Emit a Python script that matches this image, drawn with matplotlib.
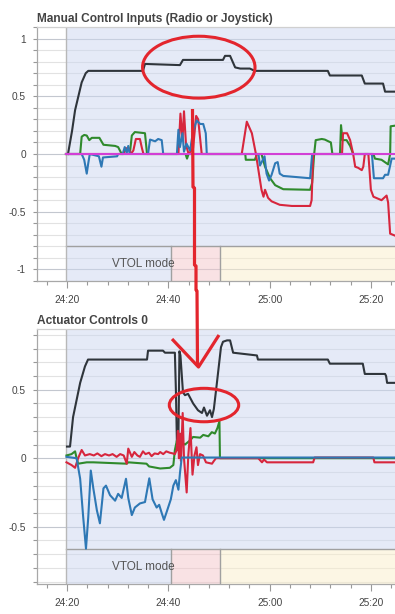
import matplotlib
matplotlib.use('Agg')
import matplotlib.pyplot as plt
from matplotlib.patches import Ellipse
from matplotlib.lines import Line2D
from matplotlib.ticker import MultipleLocator, FuncFormatter, FixedLocator
import matplotlib.transforms as mtransforms

plt.rcParams['font.family'] = ['Liberation Sans', 'DejaVu Sans']
plt.rcParams['axes.unicode_minus'] = False

# ---------------- data (time in seconds, 24:20 = 1460 s) ----------------
# Manual Control Inputs
mc_thr_t = [1460.2, 1461.0, 1461.6, 1462.9, 1463.7, 1464.2, 1475.0, 1475.4, 1482.3, 1482.9,
            1490.8, 1491.2, 1492.2, 1493.2, 1494.2, 1496.1, 1497.1, 1511.5, 1511.9, 1518.2,
            1518.8, 1522.4, 1522.8, 1525.5]
mc_thr_v = [0.0, 0.20, 0.38, 0.62, 0.70, 0.72, 0.72, 0.78, 0.77, 0.815,
            0.815, 0.85, 0.85, 0.75, 0.74, 0.74, 0.72, 0.72, 0.68, 0.68,
            0.61, 0.61, 0.54, 0.54]

mc_green_t = [1459.8, 1462.6, 1462.9, 1463.4, 1463.9, 1464.4, 1464.9, 1466.4, 1467.2, 1469.5,
              1470.1, 1470.8, 1472.4, 1472.8, 1473.4, 1475.4, 1475.8, 1483.4, 1483.7, 1484.0,
              1495.2, 1495.3, 1497.1, 1497.5, 1498.4, 1499.1, 1500.1, 1501.1, 1502.7, 1508.0,
              1508.4, 1508.8, 1509.1, 1510.3, 1510.9, 1511.6, 1512.1, 1512.4, 1513.9, 1514.1,
              1514.4, 1515.2, 1515.9, 1516.5, 1520.5, 1520.8, 1522.1, 1523.4, 1523.8, 1523.9,
              1525.5]
mc_green_v = [0.0, 0.0, 0.15, 0.165, 0.16, 0.12, 0.14, 0.14, 0.08, 0.07,
              0.06, 0.0, 0.0, 0.16, 0.19, 0.18, 0.0, 0.0, -0.04, 0.0,
              0.0, -0.05, -0.05, 0.0, 0.0, -0.11, -0.21, -0.27, -0.305, -0.31,
              -0.25, 0.0, 0.12, 0.13, 0.125, 0.11, 0.10, 0.0, 0.0, 0.25,
              0.12, 0.12, 0.07, 0.0, 0.0, -0.04, -0.05, -0.09, 0.0, 0.24,
              0.25]

mc_red_t = [1459.8, 1471.2, 1471.6, 1472.2, 1472.6, 1473.1, 1473.6, 1474.4, 1474.8, 1475.1,
            1482.0, 1482.4, 1482.8, 1483.1, 1483.5, 1484.0, 1484.9, 1485.5, 1485.9, 1486.6,
            1494.5, 1495.5, 1495.9, 1496.5, 1497.3, 1498.4, 1498.8, 1499.1, 1499.7, 1500.4,
            1502.0, 1504.4, 1508.0, 1508.3, 1508.6, 1514.3, 1514.5, 1515.3, 1515.9, 1516.5,
            1516.9, 1517.5, 1518.2, 1518.5, 1518.8, 1519.5, 1520.0, 1520.5, 1522.1, 1523.1,
            1523.4, 1523.8, 1525.5]
mc_red_v = [0.0, 0.0, 0.05, 0.05, 0.0, 0.03, 0.13, 0.13, 0.05, 0.0,
            0.0, 0.35, 0.12, 0.37, 0.08, 0.0, 0.05, 0.33, 0.30, 0.0,
            0.0, 0.28, 0.24, 0.18, 0.0, -0.31, -0.37, -0.31, -0.38, -0.41,
            -0.44, -0.45, -0.45, -0.40, 0.0, 0.0, 0.18, 0.18, 0.12, 0.0,
            -0.11, -0.12, -0.14, -0.11, 0.0, 0.0, -0.31, -0.37, -0.40, -0.36,
            -0.42, -0.69, -0.72]

mc_blue_t = [1459.8, 1462.9, 1463.4, 1463.9, 1464.2, 1464.5, 1466.3, 1466.8, 1467.1, 1469.9,
             1470.1, 1471.0, 1471.4, 1471.8, 1472.1, 1472.4, 1476.0, 1476.4, 1477.4, 1478.0,
             1478.7, 1479.0, 1481.7, 1482.0, 1482.3, 1482.8, 1483.1, 1483.6, 1484.3, 1484.9,
             1485.6, 1486.3, 1486.9, 1487.4, 1487.6, 1497.8, 1498.1, 1499.0, 1499.4, 1499.9,
             1500.4, 1501.1, 1501.6, 1502.0, 1502.7, 1508.0, 1508.4, 1520.2, 1520.6, 1522.4,
             1522.8, 1523.4, 1524.1, 1525.5]
mc_blue_v = [0.0, 0.0, -0.05, -0.17, -0.08, 0.0, -0.02, -0.11, -0.03, -0.02,
             0.0, 0.0, 0.06, 0.01, 0.07, 0.0, 0.0, 0.125, 0.11, 0.13,
             0.12, 0.0, 0.0, 0.21, 0.06, 0.18, 0.02, 0.09, 0.03, 0.20,
             0.29, 0.26, 0.26, 0.18, 0.0, 0.0, -0.10, -0.02, -0.17, -0.23,
             -0.18, -0.08, -0.07, -0.17, -0.19, -0.21, 0.0, 0.0, -0.21, -0.21,
             -0.18, -0.18, -0.04, -0.04]

mc_mag_t = [1459.8, 1525.5]
mc_mag_v = [0.0, 0.0]

# Actuator Controls 0
ac_thr_t = [1460.0, 1460.6, 1461.2, 1462.6, 1463.55, 1464.15, 1475.8, 1476.0, 1478.95, 1479.35,
            1481.3, 1481.5, 1481.7, 1482.0, 1482.2, 1482.4, 1482.9, 1483.3, 1483.9, 1484.9,
            1485.86, 1486.65, 1487.05, 1487.64, 1488.23, 1488.63, 1489.0, 1489.6, 1490.4, 1490.8,
            1491.6, 1492.2, 1492.8, 1497.5, 1497.7, 1511.5, 1511.9, 1518.4, 1518.8, 1522.8,
            1523.0, 1523.2, 1525.5]
ac_thr_v = [0.085, 0.085, 0.30, 0.55, 0.67, 0.72, 0.72, 0.785, 0.785, 0.77,
            0.77, 0.50, 0.12, 0.15, 0.78, 0.75, 0.48, 0.46, 0.47, 0.40,
            0.35, 0.33, 0.37, 0.31, 0.35, 0.30, 0.36, 0.55, 0.81, 0.85,
            0.86, 0.86, 0.77, 0.75, 0.72, 0.72, 0.69, 0.69, 0.615, 0.615,
            0.60, 0.55, 0.55]

ac_green_t = [1459.9, 1460.9, 1461.6, 1461.9, 1462.2, 1463.9, 1465.2, 1471.8, 1472.1, 1475.7,
              1476.2, 1478.4, 1480.3, 1481.0, 1481.3, 1481.7, 1483.3, 1484.3, 1484.9, 1486.3,
              1486.9, 1487.9, 1488.6, 1489.2, 1489.7, 1490.1, 1490.2, 1525.5]
ac_green_v = [0.02, 0.03, 0.05, 0.0, -0.04, -0.03, -0.03, -0.04, -0.03, -0.04,
              -0.06, -0.075, -0.07, -0.05, 0.06, 0.13, 0.10, 0.13, 0.155, 0.15,
              0.17, 0.16, 0.19, 0.18, 0.22, 0.27, 0.0, 0.0]

ac_red_t = [1459.9, 1460.9, 1461.6, 1462.2, 1462.9, 1463.55, 1464.5, 1465.3, 1466.0, 1466.8,
            1467.5, 1468.3, 1469.0, 1469.8, 1470.5, 1471.2, 1471.8, 1472.1, 1472.8, 1473.3,
            1473.9, 1474.4, 1475.0, 1475.5, 1476.2, 1476.7, 1477.3, 1478.0, 1478.4, 1479.0,
            1479.6, 1480.3, 1480.9, 1481.3, 1481.66, 1481.9, 1482.1, 1482.3, 1482.5, 1482.84,
            1483.1, 1483.63, 1483.95, 1484.38, 1484.78, 1485.17, 1485.57, 1485.86, 1486.26, 1486.85,
            1487.44, 1488.63, 1489.0, 1489.42, 1497.77, 1498.5, 1498.9, 1499.49, 1508.6, 1508.9,
            1520.47, 1520.7, 1525.5]
ac_red_v = [-0.03, -0.05, -0.07, 0.0, 0.06, 0.02, 0.03, 0.02, 0.035, 0.015,
            0.03, 0.02, 0.03, 0.01, 0.03, 0.02, -0.04, 0.07, 0.01, 0.045,
            0.02, 0.01, 0.05, 0.03, 0.04, 0.015, 0.035, 0.03, 0.045, 0.03,
            0.05, 0.04, 0.035, 0.03, 0.06, 0.20, 0.0, 0.18, -0.02, 0.33,
            0.0, -0.25, 0.02, 0.22, -0.12, 0.02, 0.08, -0.05, 0.03, 0.02,
            -0.03, -0.04, -0.02, 0.0, 0.0, -0.03, -0.01, -0.03, -0.03, 0.005,
            0.005, -0.03, -0.03]

ac_blue_t = [1459.9, 1461.9, 1462.6, 1463.2, 1463.75, 1464.2, 1464.7, 1465.2, 1465.9, 1466.5,
             1467.2, 1467.7, 1468.5, 1469.5, 1470.1, 1470.8, 1471.65, 1472.1, 1472.8, 1473.4,
             1474.4, 1475.4, 1476.25, 1476.9, 1477.7, 1478.2, 1478.7, 1479.15, 1479.7, 1480.5,
             1481.0, 1481.5, 1482.0, 1482.3, 1482.65, 1525.5]
ac_blue_v = [0.01, 0.0, -0.15, -0.43, -0.66, -0.43, -0.09, -0.22, -0.38, -0.475,
             -0.22, -0.20, -0.27, -0.31, -0.26, -0.29, -0.15, -0.29, -0.415, -0.36,
             -0.33, -0.32, -0.147, -0.30, -0.36, -0.34, -0.40, -0.45, -0.39, -0.30,
             -0.20, -0.16, -0.23, -0.11, 0.005, 0.005]

# flight mode / VTOL mode phases
mode_start = 1459.8
vtol_edges = [1459.8, 1480.5, 1490.2, 1530.0]
vtol_colors = ['#ccd7f0', '#f4c6ca', '#fbefcb']
vtol_label = 'VTOL mode'

titles = ['Manual Control Inputs (Radio or Joystick)', 'Actuator Controls 0']

# ---------------- styling ----------------
C_BLACK = '#2f353b'
C_GREEN = '#2f8a2c'
C_RED = '#d7263d'
C_BLUE = '#2e78b5'
C_MAG = '#d23fd6'
C_ANN = '#e3252d'

XMIN, XMAX = 1454.08, 1524.76
BAND = 0.138

fig = plt.figure(figsize=(3.95, 6.14), dpi=100)
ax1 = fig.add_axes([37 / 395, 1 - 281 / 614, (395 - 37) / 395, 254 / 614])
ax2 = fig.add_axes([37 / 395, 1 - 584 / 614, (395 - 37) / 395, 255 / 614])


def fmt_time(s, pos):
    s = int(round(s))
    return f"{s // 60}:{s % 60:02d}"


def style(ax, ylim, majors, title):
    ax.set_xlim(XMIN, XMAX)
    ax.set_ylim(*ylim)
    ax.set_axisbelow(True)
    ax.yaxis.set_major_locator(FixedLocator(majors))
    ax.yaxis.set_minor_locator(MultipleLocator(0.1))
    ax.yaxis.set_major_formatter(FuncFormatter(lambda v, p: f"{v:g}"))
    ax.xaxis.set_major_locator(MultipleLocator(20))
    ax.xaxis.set_minor_locator(MultipleLocator(4))
    ax.xaxis.set_major_formatter(FuncFormatter(fmt_time))
    ax.grid(True, which='major', axis='y', color='#c3c7cf', lw=0.8)
    ax.grid(True, which='minor', axis='y', color='#e2e2e2', lw=0.8)
    for side in ['right']:
        ax.spines[side].set_visible(False)
    ax.spines['top'].set_color('#d0d0d0')
    ax.spines['left'].set_color('#a8a8a8')
    ax.spines['bottom'].set_color('#a8a8a8')
    for sp in ax.spines.values():
        sp.set_linewidth(0.9)
    ax.tick_params(axis='y', which='both', length=3, width=0.8, color='#999999',
                   labelsize=7.3, labelcolor='#444444', pad=5)
    ax.tick_params(axis='x', which='major', length=5, width=0.8, color='#999999',
                   labelsize=7.3, labelcolor='#444444', pad=5)
    ax.tick_params(axis='x', which='minor', length=3, width=0.8, color='#999999')
    ax.set_title(title, loc='left', fontsize=8.6, fontweight='bold', color='#444444', pad=3.5)

    trans = mtransforms.blended_transform_factory(ax.transData, ax.transAxes)
    # flight mode shading
    ax.axvspan(mode_start, XMAX + 10, ymin=BAND, ymax=1, color='#ccd7f0', alpha=0.5,
               lw=0, zorder=0.8)
    # VTOL band
    for i in range(len(vtol_colors)):
        ax.axvspan(vtol_edges[i], vtol_edges[i + 1], ymin=0, ymax=BAND,
                   color=vtol_colors[i], alpha=0.5, lw=0, zorder=0.8)
    ax.plot([mode_start, XMAX + 10], [BAND, BAND], transform=trans, color='#a0a0a0',
            lw=1.0, zorder=0.9, clip_on=False)
    ax.axvline(mode_start, color='#b8b8b8', lw=1.0, zorder=0.9)
    for e in vtol_edges[1:3]:
        ax.axvline(e, ymin=0, ymax=BAND, color='#a0a0a0', lw=1.0, zorder=0.9)
    ax.text(1468.9, 0.065, vtol_label, transform=trans, fontsize=8.5, color='#555555',
            ha='left', va='center', zorder=1)


style(ax1, (-1.1, 1.1), [-1, -0.5, 0, 0.5, 1], titles[0])
style(ax2, (-0.918, 0.943), [-0.5, 0, 0.5], titles[1])

LW = 1.5
ax1.plot(mc_thr_t, mc_thr_v, color=C_BLACK, lw=LW, zorder=3)
ax1.plot(mc_green_t, mc_green_v, color=C_GREEN, lw=LW, zorder=3)
ax1.plot(mc_red_t, mc_red_v, color=C_RED, lw=LW, zorder=3)
ax1.plot(mc_blue_t, mc_blue_v, color=C_BLUE, lw=LW, zorder=3)
ax1.plot(mc_mag_t, mc_mag_v, color=C_MAG, lw=LW, zorder=4)

ax2.plot(ac_thr_t, ac_thr_v, color=C_BLACK, lw=LW, zorder=3)
ax2.plot(ac_green_t, ac_green_v, color=C_GREEN, lw=LW, zorder=3)
ax2.plot(ac_red_t, ac_red_v, color=C_RED, lw=LW, zorder=3)
ax2.plot(ac_blue_t, ac_blue_v, color=C_BLUE, lw=LW, zorder=4)

# ---------------- hand-drawn annotations ----------------
ax1.add_patch(Ellipse((1486.02, 0.752), 22.2, 0.536, fill=False, ec=C_ANN, lw=2.2,
                      zorder=6, clip_on=False))
ax2.add_patch(Ellipse((1487.05, 0.388), 13.7, 0.244, fill=False, ec=C_ANN, lw=2.2,
                      zorder=6, clip_on=False))


def px(pts):
    xs = [p[0] / 100 for p in pts]
    ys = [(614 - p[1]) / 100 for p in pts]
    return xs, ys


shaft = [(192.5, 109), (193, 187), (194.5, 188), (194.5, 265), (196, 266), (196, 290),
         (197, 291), (197.5, 366)]
head = [(172, 339), (198.5, 367), (219, 335)]
for pts in (shaft, head):
    xs, ys = px(pts)
    fig.add_artist(Line2D(xs, ys, transform=fig.dpi_scale_trans, color=C_ANN, lw=2.3,
                          solid_capstyle='butt', zorder=10))

fig.savefig('out.png', dpi=100)
